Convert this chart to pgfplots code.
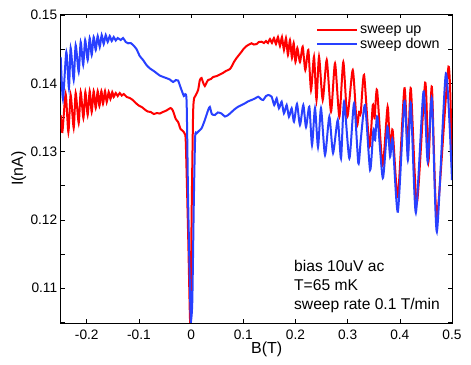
\documentclass[border=0pt]{standalone}
\usepackage{fontspec}
\setmainfont{Liberation Sans}
\usepackage{pgfplots}
\pgfplotsset{compat=1.18}
\definecolor{upred}{RGB}{255,0,0}
\definecolor{downblue}{RGB}{40,64,255}

\begin{document}
\begin{tikzpicture}[x=1pt,y=1pt]
\path (0,0) rectangle (471,364);
\begin{axis}[
  at={(60.7pt,41pt)}, anchor=south west,
  width=391.3pt, height=309pt, scale only axis,
  xmin=-0.25, xmax=0.5, ymin=0.10491, ymax=0.15015,
  xtick={-0.2,-0.1,0,0.1,0.2,0.3,0.4,0.5},
  xticklabels={-0.2,-0.1,0,0.1,0.2,0.3,0.4,0.5},
  ytick={0.11,0.12,0.13,0.14,0.15},
  yticklabels={0.11,0.12,0.13,0.14,0.15},
  minor ytick={0.105,0.115,0.125,0.135,0.145},
  tick align=inside, major tick length=4pt, minor tick length=4pt,
  tick style={black, line width=0.6pt},
  axis line style={line width=0.8pt},
  ticklabel style={font=\fontsize{13.7}{15}\selectfont},
  xticklabel style={yshift=-3pt},
  xlabel={B(T)}, ylabel={I(nA)},
  xlabel style={at={(axis description cs:0.5265,-0.0605)}, anchor=north, inner sep=0pt, font=\fontsize{16}{18}\selectfont},
  ylabel style={at={(axis description cs:-0.107,0.5)}, anchor=center, inner sep=0pt, font=\fontsize{16}{18}\selectfont},
  legend style={draw=none, fill=none, at={(axis description cs:0.6525,0.969)}, anchor=north west,
    inner sep=0pt, row sep=-1pt, font=\fontsize{14.3}{16}\selectfont, cells={anchor=west}},
  legend image code/.code={\draw[#1, line width=2pt, sharp plot] (0pt,0pt) -- (33.4pt,0pt); \path (0pt,0pt) -- (40pt,0pt);},
  every axis plot/.append style={line width=2pt, smooth, tension=0.4},
  clip=true,
]
\addplot[upred] coordinates {
(-0.25,0.13536) (-0.2468,0.13287) (-0.2405,0.13843) (-0.2353,0.13287) (-0.2309,0.13829)
(-0.2251,0.13346) (-0.2213,0.13858) (-0.2155,0.13419) (-0.2117,0.13873) (-0.2065,0.13492)
(-0.2027,0.13873) (-0.1983,0.13536) (-0.1944,0.13887) (-0.1906,0.1358) (-0.1868,0.13887)
(-0.1829,0.13638) (-0.1791,0.13887) (-0.1758,0.13668) (-0.1720,0.13887) (-0.1689,0.13697)
(-0.1651,0.13887) (-0.1618,0.13726) (-0.1580,0.13873) (-0.1547,0.1377) (-0.1512,0.13873)
(-0.1484,0.138) (-0.1445,0.13858) (-0.1407,0.13814) (-0.1369,0.13858) (-0.1330,0.13821)
(-0.1292,0.13843) (-0.1234,0.138) (-0.1177,0.13785) (-0.1119,0.13756) (-0.1061,0.13712)
(-0.1004,0.13675) (-0.0946,0.13653) (-0.0889,0.13617) (-0.0831,0.13587) (-0.0774,0.1358)
(-0.0716,0.13551) (-0.0658,0.13565) (-0.0601,0.13558) (-0.0543,0.1358) (-0.0472,0.13602)
(-0.0395,0.13638) (-0.0351,0.13602) (-0.0294,0.13477) (-0.0250,0.13434) (-0.0203,0.13331)
(-0.0159,0.13302) (-0.0121,0.13258) (-0.0102,0.13126) (-0.0058,0.11808) (-0.0025,0.10637)
(-0.0012,0.10593) (0.0013,0.12292) (0.0038,0.13565) (0.0058,0.13785) (0.0090,0.13829)
(0.0134,0.13902) (0.0167,0.14048) (0.0200,0.14078) (0.0225,0.14019) (0.0263,0.13961)
(0.0301,0.14019) (0.0326,0.14048) (0.0378,0.14063) (0.0422,0.14092) (0.0493,0.14107)
(0.0551,0.14129) (0.0608,0.14151) (0.0666,0.1418) (0.0743,0.14209) (0.0781,0.14253)
(0.0820,0.14312) (0.0871,0.1437) (0.0916,0.14414) (0.0967,0.14463) (0.1012,0.1451)
(0.1063,0.14546) (0.1108,0.14568) (0.1159,0.14586) (0.1203,0.14568) (0.1255,0.14575)
(0.1299,0.14605) (0.1351,0.14609) (0.1395,0.1459) (0.1434,0.14619) (0.1472,0.1459)
(0.1511,0.14649) (0.1549,0.1459) (0.1587,0.14663) (0.1626,0.14575) (0.1664,0.14678)
(0.1703,0.14546) (0.1741,0.14678) (0.1779,0.14488) (0.1818,0.14663) (0.1856,0.14414)
(0.1894,0.14634) (0.1933,0.1437) (0.1965,0.1459) (0.2000,0.14312) (0.2035,0.14517)
(0.2086,0.14312) (0.2138,0.14536) (0.2188,0.14195) (0.2246,0.14488) (0.2298,0.13902)
(0.2355,0.1439) (0.2403,0.13756) (0.2451,0.1439) (0.2522,0.13756) (0.2599,0.14341)
(0.2681,0.13584) (0.2758,0.14293) (0.2841,0.13511) (0.2917,0.14312) (0.2994,0.13511)
(0.3098,0.14195) (0.3175,0.1339) (0.3219,0.1358) (0.3251,0.13565) (0.3315,0.14122)
(0.3417,0.13072) (0.3482,0.13682) (0.3516,0.13492) (0.3564,0.13902) (0.3670,0.12804)
(0.3766,0.13658) (0.3814,0.12994) (0.3862,0.13316) (0.3962,0.1234) (0.4088,0.13927)
(0.4154,0.1298) (0.4211,0.13927) (0.4326,0.12248) (0.4486,0.14009) (0.4549,0.12852)
(0.4614,0.1395) (0.4710,0.12047) (0.4933,0.14243) (0.5000,0.12804)
};
\addlegendentry{sweep up}
\addplot[downblue] coordinates {
(-0.25,0.14385) (-0.2457,0.1377) (-0.2392,0.14458) (-0.2342,0.13931) (-0.2309,0.14517)
(-0.2251,0.14048) (-0.2213,0.14561) (-0.2155,0.14166) (-0.2117,0.14605) (-0.2069,0.14268)
(-0.2031,0.14634) (-0.1983,0.14341) (-0.1944,0.14663) (-0.1906,0.14414) (-0.1868,0.14678)
(-0.1829,0.14488) (-0.1791,0.14693) (-0.1752,0.14532) (-0.1714,0.14707) (-0.1676,0.14575)
(-0.1637,0.14707) (-0.1599,0.14605) (-0.1560,0.14693) (-0.1522,0.14619) (-0.1484,0.14678)
(-0.1445,0.14627) (-0.1407,0.14663) (-0.1349,0.14634) (-0.1305,0.14663) (-0.1253,0.14605)
(-0.1209,0.14586) (-0.1157,0.1459) (-0.1113,0.14561) (-0.1048,0.14502) (-0.0985,0.144)
(-0.0921,0.14341) (-0.0856,0.14268) (-0.0793,0.1422) (-0.0697,0.1417) (-0.0601,0.14114)
(-0.0505,0.14085) (-0.0409,0.14056) (-0.0345,0.14019) (-0.0294,0.14048) (-0.0250,0.14041)
(-0.0198,0.13931) (-0.0140,0.13814) (-0.0088,0.13756) (-0.0058,0.12292) (-0.0012,0.10637)
(0.0000,0.10535) (0.0023,0.10828) (0.0052,0.12292) (0.0077,0.13214) (0.0104,0.13268)
(0.0148,0.13302) (0.0200,0.13341) (0.0263,0.13463) (0.0326,0.13609) (0.0359,0.13653)
(0.0397,0.1355) (0.0455,0.13536) (0.0512,0.13573) (0.0583,0.13558) (0.0647,0.13514)
(0.0710,0.13536) (0.0775,0.1358) (0.0839,0.13624) (0.0902,0.13658) (0.0967,0.13682)
(0.1031,0.13707) (0.1088,0.13734) (0.1159,0.13756) (0.1223,0.13778) (0.1286,0.13804)
(0.1338,0.1377) (0.1382,0.13756) (0.1434,0.13814) (0.1478,0.13829) (0.1543,0.13804)
(0.1593,0.13682) (0.1639,0.1378) (0.1683,0.13634) (0.1735,0.13731) (0.1779,0.13561)
(0.1831,0.13682) (0.1875,0.13511) (0.1927,0.13634) (0.1971,0.13438) (0.2029,0.13697)
(0.2086,0.1339) (0.2150,0.13682) (0.2202,0.1336) (0.2265,0.13658) (0.2317,0.13097)
(0.2374,0.13634) (0.2432,0.13068) (0.2489,0.13634) (0.2566,0.1295) (0.2649,0.13511)
(0.2720,0.1298) (0.2810,0.13463) (0.2873,0.12902) (0.2931,0.13731) (0.3033,0.12902)
(0.3123,0.13707) (0.3205,0.12829) (0.3251,0.1317) (0.3334,0.13682) (0.3430,0.12731)
(0.3493,0.13316) (0.3526,0.1317) (0.3570,0.13511) (0.3674,0.12614) (0.3762,0.13365)
(0.3814,0.12926) (0.3862,0.1317) (0.3962,0.1212) (0.4088,0.13731) (0.4154,0.12877)
(0.4211,0.13707) (0.4307,0.12106) (0.4453,0.13877) (0.4534,0.12852) (0.4614,0.1378)
(0.4710,0.11827) (0.4883,0.14146) (0.5000,0.12584)
};
\addlegendentry{sweep down}
\node[anchor=base west, inner sep=0pt, font=\fontsize{15.6}{17}\selectfont] at (axis description cs:0.5962,0.166) {bias 10uV ac};
\node[anchor=base west, inner sep=0pt, font=\fontsize{15.6}{17}\selectfont] at (axis description cs:0.5962,0.1046) {T=65 mK};
\node[anchor=base west, inner sep=0pt, font=\fontsize{15.6}{17}\selectfont] at (axis description cs:0.5962,0.0443) {sweep rate 0.1 T/min};
\end{axis}
\end{tikzpicture}
\end{document}
